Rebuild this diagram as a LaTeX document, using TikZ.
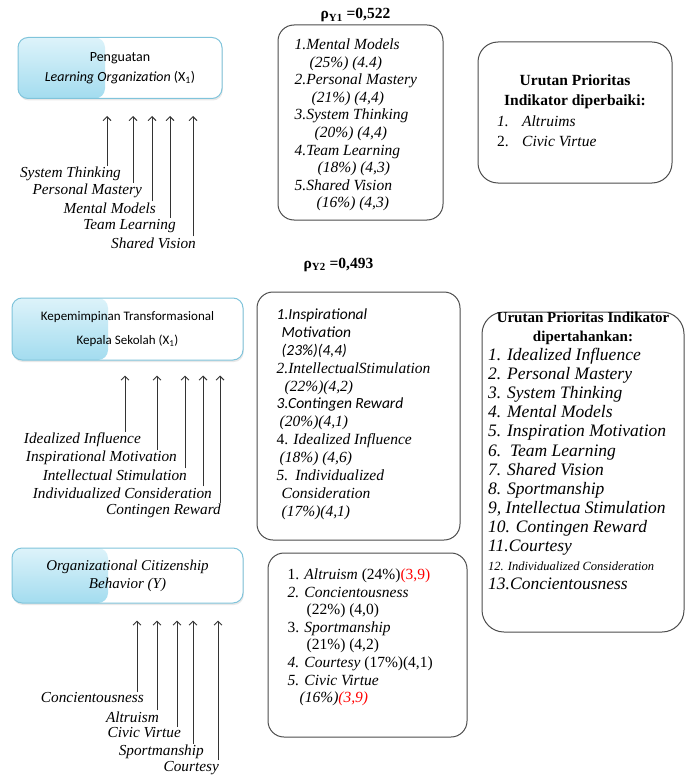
\documentclass[tikz,border=0pt]{standalone}
\usepackage{fontspec}
\setmainfont{Liberation Serif}
\setsansfont{Carlito}
\usepackage{tikz}
\usetikzlibrary{positioning}
\usetikzlibrary{arrows.meta}
\usetikzlibrary{shadows}

\definecolor{varline}{HTML}{80C4DB}
\definecolor{vartop}{HTML}{DDF3FA}
\definecolor{varbottom}{HTML}{A3DCEF}

\begin{document}
\begin{tikzpicture}[
  x=1pt, y=-1pt,
  varbox/.style={draw=varline, fill=white, line width=1pt, rounded corners=10pt,
    align=center, inner sep=2pt,
    drop shadow={opacity=0.18, shadow xshift=0.8pt, shadow yshift=-2pt},
    path picture={\shade[top color=vartop, bottom color=varbottom]
      (path picture bounding box.south west) rectangle
      ([xshift=#1]path picture bounding box.north west);}},
  lbl/.style={anchor=east, inner sep=1pt, font=\itshape\fontsize{15.3}{17}\selectfont},
  ind/.style={draw=black!80, line width=0.9pt, -{Straight Barb[length=4pt,width=8pt]}},
  listbox/.style={draw=black!70, line width=1pt, rounded corners=16pt},
  listtext/.style={align=left, inner sep=0pt, font=\itshape\fontsize{15.5}{17.6}\selectfont},
  headtext/.style={align=center, inner sep=1pt, font=\bfseries\fontsize{15.5}{20}\selectfont}
]
\useasboundingbox (0,0) rectangle (685,778);

% variables
\node[varbox=87pt, minimum width=204pt, minimum height=61pt,
  font=\sffamily\fontsize{14}{20}\selectfont] (lo) at (120,68)
  {Penguatan\\\textit{Learning Organization} (X\textsubscript{1})};
\node[varbox=96pt, minimum width=231pt, minimum height=62pt,
  font=\sffamily\fontsize{13}{24}\selectfont] (kt) at (127.5,329)
  {Kepemimpinan Transformasional\\Kepala Sekolah (X\textsubscript{1})};
\node[varbox=96pt, minimum width=231pt, minimum height=55pt,
  font=\itshape\fontsize{15}{18}\selectfont] (ocb) at (127.5,575.5)
  {Organizational Citizenship\\Behavior (Y)};

\coordinate[below=17pt of lo] (lotip);
\coordinate[below=15pt of kt] (kttip);
\coordinate[below=17pt of ocb] (ocbtip);

% indicators
\node[lbl] (st) at (122,174) {System Thinking};
\node[lbl] (pm) at (143,191) {Personal Mastery};
\node[lbl] (mm) at (157,208) {Mental Models};
\node[lbl] (tl) at (177,226) {Team Learning};
\node[lbl] (sv) at (197,243) {Shared Vision};

\node[lbl] (ii) at (142,440) {Idealized Influence};
\node[lbl] (im) at (178,458) {Inspirational Motivation};
\node[lbl] (is) at (188,475) {Intellectual Stimulation};
\node[lbl] (ic) at (213,493) {Individualized Consideration};
\node[lbl] (cr) at (222,511) {Contingen Reward};

\node[lbl] (cn) at (145,698) {Concientousness};
\node[lbl] (al) at (160,717) {Altruism};
\node[lbl] (cv) at (182,733) {Civic Virtue};
\node[lbl] (sp) at (205,752) {Sportmanship};
\node[lbl] (co) at (220,768) {Courtesy};

\path ([xshift=-15pt]st.north east) edge[ind] ([xshift=-15pt]st.north east |- lotip)
  ([xshift=-10pt]pm.north east) edge[ind] ([xshift=-10pt]pm.north east |- lotip)
  ([xshift=-5pt]mm.north east) edge[ind] ([xshift=-5pt]mm.north east |- lotip)
  ([xshift=-7pt]tl.north east) edge[ind] ([xshift=-7pt]tl.north east |- lotip)
  ([xshift=-4pt]sv.north east) edge[ind] ([xshift=-4pt]sv.north east |- lotip)
  ([xshift=-17pt]ii.north east) edge[ind] ([xshift=-17pt]ii.north east |- kttip)
  ([xshift=-21pt]im.north east) edge[ind] ([xshift=-21pt]im.north east |- kttip)
  ([xshift=-3pt]is.north east) edge[ind] ([xshift=-3pt]is.north east |- kttip)
  ([xshift=-10pt]ic.north east) edge[ind] ([xshift=-10pt]ic.north east |- kttip)
  ([xshift=-2pt]cr.north east) edge[ind] ([xshift=-2pt]cr.north east |- kttip)
  ([xshift=-8pt]cn.north east) edge[ind] ([xshift=-8pt]cn.north east |- ocbtip)
  ([xshift=-3pt]al.north east) edge[ind] ([xshift=-3pt]al.north east |- ocbtip)
  ([xshift=-5pt]cv.north east) edge[ind] ([xshift=-5pt]cv.north east |- ocbtip)
  ([xshift=-12pt]sp.north east) edge[ind] ([xshift=-12pt]sp.north east |- ocbtip)
  ([xshift=-2pt]co.north east) edge[ind] ([xshift=-2pt]co.north east |- ocbtip);

% contribution boxes
\node[listbox, minimum width=165pt, minimum height=195pt] (lobox) at (360.5,122.5) {};
\node[headtext, above=1pt of lobox, xshift=-5pt] (rhoone) {ρ\textsubscript{Y1} =0,522};
\node[listtext, below right=14pt and 17pt of lobox.north west] (lolist)
  {1.Mental Models\\
   \hspace*{15pt}(25\%) (4.4)\\
   2.Personal Mastery\\
   \hspace*{17pt}(21\%) (4,4)\\
   3.System Thinking\\
   \hspace*{20pt}(20\%) (4,4)\\
   4.Team Learning\\
   \hspace*{23pt}(18\%) (4,3)\\
   5.Shared Vision\\
   \hspace*{22pt}(16\%) (4,3)};

\node[listbox, minimum width=203pt, minimum height=248pt] (ktbox) at (358.5,416) {};
\node[headtext, above=19pt of ktbox, xshift=-20pt] (rhotwo) {ρ\textsubscript{Y2} =0,493};
\node[listtext, font=\itshape\fontsize{15.5}{17.9}\selectfont,
  below right=17pt and 20pt of ktbox.north west] (ktlist)
  {{\sffamily 1.Inspirational}\\
   \hspace*{5pt}{\sffamily Motivation}\\
   \hspace*{5pt}{\sffamily (23\%)(4,4)}\\
   2.IntellectualStimulation\\
   \hspace*{8pt}(22\%)(4,2)\\
   {\sffamily 3.Contingen Reward}\\
   \hspace*{3pt}(20\%)(4,1)\\
   {\upshape 4.} Idealized Influence\\
   \hspace*{3pt}(18\%) (4,6)\\
   5.\hspace*{7pt}Individualized\\
   \hspace*{5pt}Consideration\\
   \hspace*{5pt}(17\%)(4,1)};

\node[listbox, minimum width=199pt, minimum height=184pt] (ocbbox) at (367.5,645) {};
\node[listtext, below right=16pt and 20pt of ocbbox.north west] (ocblist)
  {{\upshape 1. }Altruism {\upshape (24\%)\textcolor{red}{(3,9)}}\\
   2. Concientousness\\
   \hspace*{19pt}{\upshape (22\%) (4,0)}\\
   {\upshape 3. }Sportmanship\\
   \hspace*{19pt}{\upshape (21\%) (4,2)}\\
   4. Courtesy {\upshape (17\%)(4,1)}\\
   5. Civic Virtue\\
   \hspace*{12pt}(16\%)\textcolor{red}{(3,9)}};

% priorities
\node[listbox, rounded corners=20pt, minimum width=194pt, minimum height=141pt] (fixbox) at (575,112.5) {};
\node[headtext] (fixhead) at (575,92) {Urutan Prioritas\\Indikator diperbaiki:};
\node[listtext, font=\itshape\fontsize{15.5}{20}\selectfont, anchor=north west] (fixlist) at (497,116)
  {\makebox[25pt][l]{1.}Altruims\\
   \makebox[25pt][l]{\upshape 2.}Civic Virtue};

\node[listbox, rounded corners=22pt, minimum width=202pt, minimum height=320pt] (keepbox) at (583,472) {};
\node[headtext, font=\bfseries\fontsize{15}{19}\selectfont] (keephead) at (583,328.5)
  {Urutan Prioritas Indikator\\dipertahankan:};
\node[listtext, font=\itshape\fontsize{17.5}{19.1}\selectfont, anchor=north west] (keeplist) at (488,348)
  {1. Idealized Influence\\
   2. Personal Mastery\\
   3. System Thinking\\
   4. Mental Models\\
   5. Inspiration Motivation\\
   6.\ \ Team Learning\\
   7. Shared Vision\\
   8. Sportmanship\\
   9, Intellectua Stimulation\\
   10. Contingen Reward\\
   11.Courtesy\\
   {\fontsize{12.5}{19.1}\selectfont 12. Individualized Consideration}\\
   13.Concientousness};

\end{tikzpicture}
\end{document}
